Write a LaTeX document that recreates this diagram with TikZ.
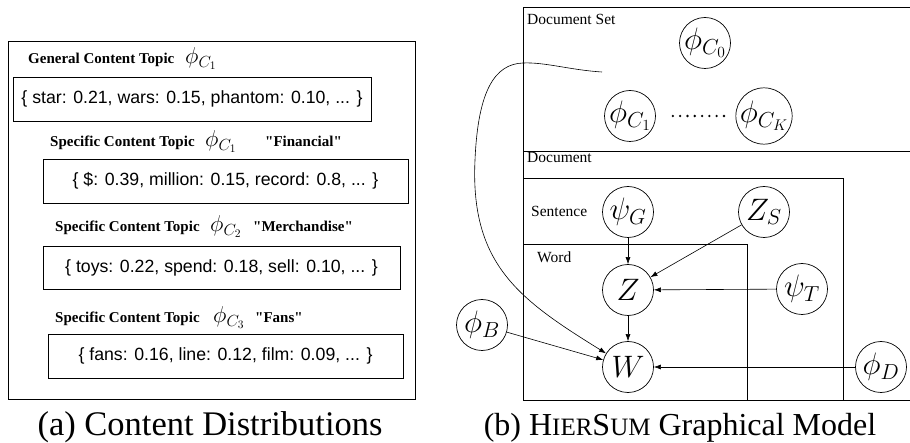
\RequirePackage{fix-cm}
\documentclass[tikz,border=0pt]{standalone}
\usepackage{fontspec}
\setmainfont{Liberation Serif}[Ligatures=TeXOff]
\setsansfont{Liberation Sans}
\usetikzlibrary{arrows.meta}

\newcommand{\phiC}[1]{{\fontsize{23}{23}\selectfont$\phi_{C_{#1}}$}}
\newcommand{\smc}[1]{{\fontsize{25}{25}\selectfont #1}}

\begin{document}
\begin{tikzpicture}[x=1pt,y=-1pt,
  var/.style={circle,draw,line width=0.7pt,minimum size=51pt,inner sep=0pt,
    font=\fontsize{31}{31}\selectfont},
  dist/.style={rectangle,draw,line width=0.8pt,inner sep=0pt,
    font=\sffamily\fontsize{17.7}{20}\selectfont},
  topic/.style={anchor=base west,inner sep=0pt,font=\bfseries\fontsize{15}{18}\selectfont},
  platename/.style={anchor=base west,inner sep=0pt,font=\fontsize{15.5}{18}\selectfont},
  plate/.style={draw,line width=0.8pt},
  capt/.style={anchor=base,inner sep=0pt,font=\fontsize{34.5}{36}\selectfont},
  link/.style={-{Latex[length=7pt,width=5pt]},line width=0.6pt}]
    \useasboundingbox (0,0) rectangle (910,443);
    % Content distributions
    \draw[plate] (8,41) rectangle (415,399);
    \node[topic] (gen) at (28,64)
      {\makebox[157pt][l]{General Content Topic}\phiC{1}};
    \node[dist,minimum width=358pt,minimum height=44pt] (genbox) at (192,99)
      {\{ star: 0.21, wars: 0.15, phantom: 0.10, ... \}};
    \node[topic] (fin) at (50,147)
      {\makebox[155pt][l]{Specific Content Topic}\makebox[60pt][l]{\phiC{1}}"Financial"};
    \node[dist,minimum width=365pt,minimum height=44pt] (finbox) at (225.5,181)
      {\{ \$: 0.39, million: 0.15, record: 0.8, ... \}};
    \node[topic] (mer) at (55,232)
      {\makebox[155pt][l]{Specific Content Topic}\makebox[43pt][l]{\phiC{2}}"Merchandise"};
    \node[dist,minimum width=357pt,minimum height=43pt] (merbox) at (221.5,267.5)
      {\{ toys: 0.22, spend: 0.18, sell: 0.10, ... \}};
    \node[topic] (fans) at (55,323)
      {\makebox[158pt][l]{Specific Content Topic}\makebox[42pt][l]{\phiC{3}}"Fans"};
    \node[dist,minimum width=355pt,minimum height=44pt] (fansbox) at (225.5,356)
      {\{ fans: 0.16, line: 0.12, film: 0.09, ... \}};
    % Plates
    \draw[plate] (910,7) -| (523,400) -- (910,400);
    \draw[plate] (523,151) -- (910,151);
    \draw[plate] (523,178) -| (843,400);
    \draw[plate] (523,244) -| (747,400);
    \node[platename] (dsetlbl) at (527,25) {Document Set};
    \node[platename] (doclbl) at (527,163) {Document};
    \node[platename] (sentlbl) at (531,217) {Sentence};
    \node[platename] (wordlbl) at (537,263) {Word};
    % Variables
    \node[var] (c0) at (705,43) {$\phi_{C_0}$};
    \node[var] (c1) at (630,116) {$\phi_{C_1}$};
    \node[var] (ck) at (764,116) {$\phi_{C_K}$};
    \node[var] (psig) at (628,212) {$\psi_G$};
    \node[var] (zs) at (764,212) {$Z_S$};
    \node[var] (z) at (628,290) {$Z$};
    \node[var] (psit) at (802,289) {$\psi_T$};
    \node[var] (phib) at (482,325) {$\phi_B$};
    \node[var] (w) at (628,367) {$W$};
    \node[var] (phid) at (881,367) {$\phi_D$};
    \draw[line width=2.6pt,line cap=round,dash pattern=on 0pt off 7.3pt,
      shorten <=17pt,shorten >=5pt] (c1) -- (ck);
    % Dependencies
    \coordinate (cstart) at (602,72);
    \draw[link] (cstart) .. controls (570,70) and (545,62) .. (523,63)
      .. controls (495,64) and (478,90) .. (475,160)
      .. controls (470,265) and (520,300) .. (w);
    \draw[link] (psig) -- (z);
    \draw[link] (zs) -- (z);
    \draw[link] (psit) -- (z);
    \draw[link] (z) -- (w);
    \draw[link] (phib) -- (w);
    \draw[link] (phid) -- (w);
    % Captions
    \node[capt] (capa) at (210,435) {(a) Content Distributions};
    \node[capt,font=\fontsize{32}{36}\selectfont] (capb) at (680,435)
      {(b) H\smc{IER}S\smc{UM} Graphical Model};
\end{tikzpicture}
\end{document}
